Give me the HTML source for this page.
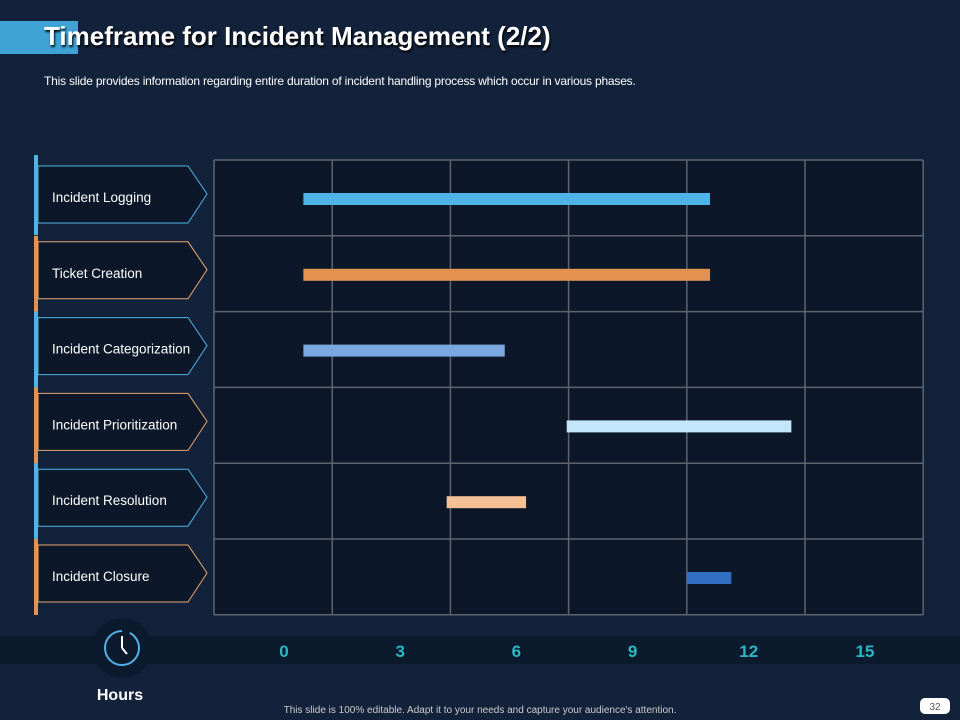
<!DOCTYPE html>
<html><head><meta charset="utf-8"><style>
body{margin:0;width:960px;height:720px;background:#13223b;overflow:hidden;font-family:"Liberation Sans",sans-serif;position:relative}
.abs{position:absolute}
</style></head><body>
<div class="abs" style="left:0;top:21px;width:78px;height:33px;background:#3fa3d6"></div>
<div class="abs" style="left:44px;top:21px;font-size:26px;font-weight:bold;color:#fff;text-shadow:1px 2px 2px #000">Timeframe for Incident Management (2/2)</div>
<div class="abs" style="left:44px;top:74px;font-size:12px;color:#fff;letter-spacing:-0.2px">This slide provides information regarding entire duration of incident handling process which occur in various phases.</div>
<svg class="abs" style="left:0;top:0" width="960" height="720">
<g id="labels"></g><g id="grid"></g><g id="bars"></g>
<rect x="0" y="636" width="960" height="28" fill="#0b1a2c"/>
<g id="ticks"></g>
<g>
<circle cx="122" cy="648" r="30" fill="#0b1a2c"/>
<circle cx="122" cy="648" r="17" fill="none" stroke="#4fb3e8" stroke-width="2" stroke-dasharray="80 8"/>
<line x1="122" y1="648" x2="122" y2="636" stroke="#fff" stroke-width="2"/>
<line x1="122" y1="648" x2="127" y2="654" stroke="#fff" stroke-width="2"/>
</g>
<text x="120" y="700" fill="#fff" font-size="16" font-weight="bold" text-anchor="middle">Hours</text>
<text x="480" y="713" fill="#ccc" font-size="10" text-anchor="middle">This slide is 100% editable. Adapt it to your needs and capture your audience's attention.</text>
<rect x="920" y="698" width="30" height="16" rx="5" fill="#fff"/>
<text x="935" y="710" fill="#555" font-size="10" text-anchor="middle">32</text>
</svg>
<script>
const categories=["Incident Logging","Ticket Creation","Incident Categorization","Incident Prioritization","Incident Resolution","Incident Closure"];
const starts=[0.5,0.5,0.5,7.3,4.2,10.4];
const ends=[11,11,5.7,13.1,6.25,11.55];
const tickLabels=[0,3,6,9,12,15];
const colors=["#4fb3e8","#e39250","#7aa7e0","#c5e6fa","#f5c096","#2f6ec2"];
const NS="http://www.w3.org/2000/svg";
const x=v=>284+v*38.73;
const rowTop=i=>160+i*75.8;
function mk(tag,attrs,parent){const e=document.createElementNS(NS,tag);for(const k in attrs)e.setAttribute(k,attrs[k]);parent.appendChild(e);return e;}
const gl=document.getElementById('labels'),gg=document.getElementById('grid'),gb=document.getElementById('bars'),gt=document.getElementById('ticks');
mk('rect',{x:214,y:160,width:709,height:455,fill:'#0c1829'},gg);
for(let i=0;i<=6;i++){mk('line',{x1:214+i*118.2,y1:160,x2:214+i*118.2,y2:615,stroke:'#5d6470','stroke-width':1.5},gg);}
for(let i=0;i<=6;i++){mk('line',{x1:214,y1:rowTop(i),x2:923,y2:rowTop(i),stroke:'#5d6470','stroke-width':1.5},gg);}
categories.forEach((c,i)=>{
  const t=rowTop(i), col=i%2?'#e39250':'#4fb3e8';
  const side=mk('rect',{x:34,y:(i==0?155:t),width:4,height:(i==0?80:76),fill:col},gl);
  
  
  const p=mk('path',{d:`M38 ${t+6}H188L207 ${t+34}L188 ${t+63}H38Z`,fill:'#0c1829',stroke:i%2?'#e8a870':'#4fb3e8','stroke-width':1},gl);
  
  
  const tx=mk('text',{x:52,y:t+42,fill:'#fff','font-size':13.5},gl);tx.textContent=c;
  
  
  const r=mk('rect',{x:x(starts[i]),y:t+33,width:x(ends[i])-x(starts[i]),height:12,fill:colors[i]},gb);
  
  
});
tickLabels.forEach((v,i)=>{
  const t=mk('text',{x:x(v),y:657,fill:'#2bb8c6','font-size':17,'font-weight':'bold','text-anchor':'middle'},gt);t.textContent=v;
  
  
});
</script>
</body></html>
